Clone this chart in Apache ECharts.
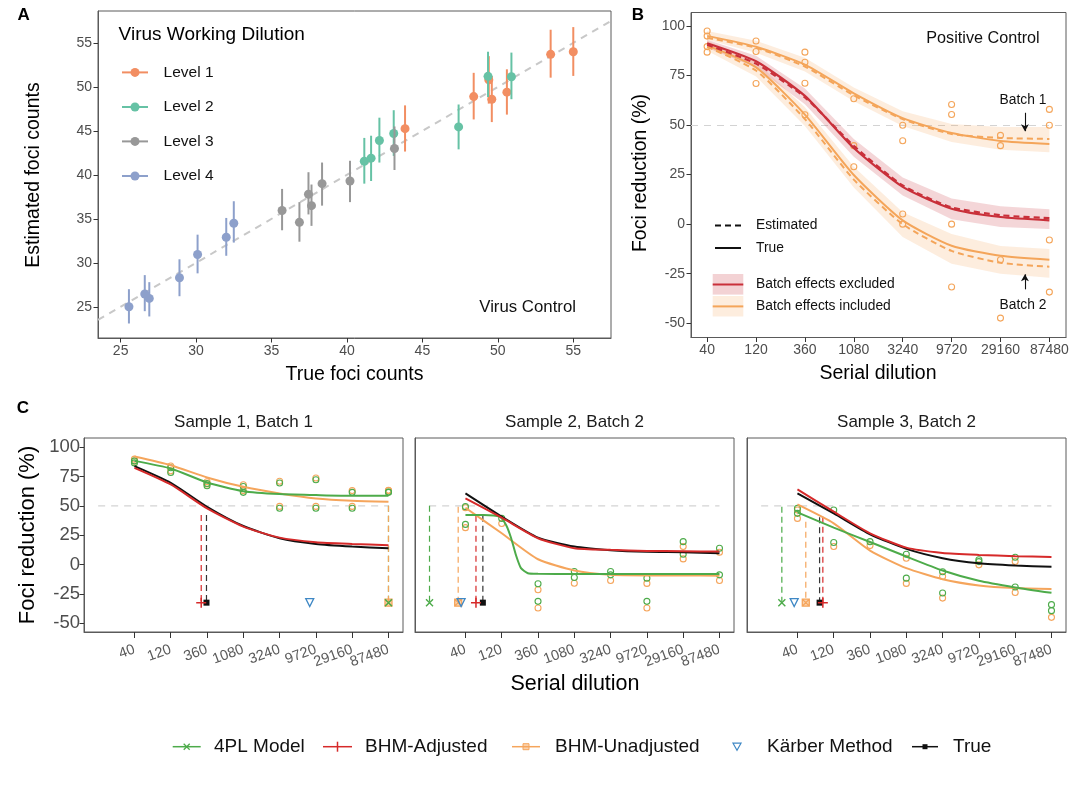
<!DOCTYPE html>
<html>
<head>
<meta charset="utf-8">
<script src="https://cdn.jsdelivr.net/npm/echarts@6/dist/echarts.min.js"></script>
<style>
  html, body { margin: 0; background: #fff; }
  #main { width: 1080px; height: 785px; }
</style>
</head>
<body>
<div id="main"></div>
<script>
// ---------- panel A: virus control ----------
const lvlNames = ['Level 1', 'Level 2', 'Level 3', 'Level 4'];
const lvl1X = [43.85, 48.4, 49.4, 49.6, 50.6, 53.5, 55.0];
const lvl1Y = [45.25, 48.9, 50.8, 48.6, 49.4, 53.7, 54.0];
const lvl1Lo = [42.65, 46.3, 48.1, 46.0, 46.85, 51.05, 51.25];
const lvl1Hi = [47.9, 51.6, 53.5, 51.25, 52.0, 56.5, 56.8];
const lvl2X = [41.15, 41.6, 42.15, 43.1, 47.4, 49.35, 50.9];
const lvl2Y = [41.55, 41.9, 43.9, 44.7, 45.45, 51.2, 51.15];
const lvl2Lo = [39.0, 39.3, 41.4, 42.15, 42.9, 48.85, 48.6];
const lvl2Hi = [44.2, 44.45, 46.5, 47.35, 48.0, 54.0, 53.9];
const lvl3X = [35.7, 36.85, 37.45, 37.65, 38.35, 40.2, 43.15];
const lvl3Y = [35.95, 34.6, 37.8, 36.5, 39.0, 39.3, 43.0];
const lvl3Lo = [33.7, 32.4, 35.5, 34.2, 36.5, 36.9, 40.55];
const lvl3Hi = [38.4, 36.9, 40.3, 38.9, 41.4, 41.6, 45.5];
const lvl4X = [25.55, 26.6, 26.9, 28.9, 30.1, 32.0, 32.5];
const lvl4Y = [25.0, 26.45, 25.95, 28.3, 30.95, 32.9, 34.5];
const lvl4Lo = [23.1, 24.5, 23.9, 26.2, 28.8, 30.8, 32.3];
const lvl4Hi = [27.0, 28.6, 27.8, 30.4, 33.2, 35.1, 37.0];
const countTicks = [25, 30, 35, 40, 45, 50, 55];

// ---------- panel B: positive control ----------
const dilutions = ['40', '120', '360', '1080', '3240', '9720', '29160', '87480'];
const dilIdx = [0, 1, 2, 3, 4, 5, 6, 7];
const pctTicks = [-50, -25, 0, 25, 50, 75, 100];
const b1True = [95, 89.5, 80.5, 66, 53.5, 46, 42, 40.5];
const b1Est = [94, 89, 79.5, 65, 53, 45.5, 43.5, 43];
const b1Lo = [93, 86.5, 77, 62, 49.5, 41.5, 37.5, 36.3];
const b1Hi = [97.5, 92.5, 84, 69, 57, 50.5, 49, 49];
const exTrue = [91.3, 82.2, 64.7, 38.4, 18.8, 7.8, 3.6, 1.9];
const exEst = [90.5, 81, 64, 39.5, 19.5, 8.5, 4.5, 3];
const exLo = [89, 79, 60.5, 34, 14.5, 2.5, -1.5, -2.5];
const exHi = [93, 85, 68.5, 43, 23.5, 13, 9, 7.5];
const b2True = [90.2, 79.1, 55.3, 24.8, 1.9, -10.9, -16, -18];
const b2Est = [89.5, 77.5, 53, 22.5, 0, -13.5, -19.5, -21.5];
const b2Lo = [87.5, 74.5, 49.5, 18.5, -6.5, -20, -25, -27];
const b2Hi = [92.5, 82, 59, 29, 6, -5, -11, -12.5];
const bObs = [
  [0, 97.5], [0, 94.9], [0, 89.6], [0, 86.8],
  [1, 92.4], [1, 87.1], [1, 71.0],
  [2, 86.8], [2, 81.7], [2, 71.1], [2, 55.2],
  [3, 63.3], [3, 39.6], [3, 29.0],
  [4, 49.9], [4, 42.1], [4, 5.1], [4, 0],
  [5, 60.4], [5, 55.3], [5, 0], [5, -31.7],
  [6, 44.8], [6, 39.6], [6, -18], [6, -47.4],
  [7, 57.9], [7, 49.9], [7, -8], [7, -34.3]
];
const batchArrowX = 6.5;
const batch1Arrow = [56.2, 46.9];
const batch2Arrow = [-32.9, -25.3];

// ---------- panel C: samples ----------
const sampleTitles = ['Sample 1, Batch 1', 'Sample 2, Batch 2', 'Sample 3, Batch 2'];
const c1True = [83.8, 69.6, 49.2, 32.8, 22.4, 17.5, 15.3, 13.9];
const c1Adj = [82.4, 68.2, 47.8, 32.3, 22.9, 19, 17.5, 16.4];
const c1Unadj = [92.0, 84.6, 74.2, 66.2, 60.6, 56.3, 54.3, 53.5];
const c1FplX = [0, 1, 2, 3, 4, 5, 6, 7];
const c1Fpl = [88.3, 81.8, 69.9, 62.5, 60, 59.2, 58.6, 58.6];
const c2True = [60.6, 40.8, 22.9, 15.3, 12.2, 10.8, 10.5, 9.6];
const c2Adj = [56.3, 39.9, 22.4, 13.9, 12.5, 11.6, 11.3, 11.0];
const c2Unadj = [48.4, 26.6, 4.5, -5.1, -8.8, -9.3, -9.3, -9.6];
const c2FplX = [0, 0.5, 0.94, 1.12, 1.26, 1.39, 1.53, 1.72, 2, 3, 4, 5, 6, 7];
const c2Fpl = [42.2, 42.2, 40.8, 33.7, 22.4, 8.2, -3.1, -7.4, -7.9, -8, -8, -8, -8, -8];
const c3True = [60.6, 43.6, 25.8, 13.3, 5.4, 1.1, -0.8, -2];
const c3Adj = [64, 45, 26.6, 14.4, 9.9, 8.2, 7.1, 6.5];
const c3Unadj = [51.2, 35.1, 11.9, -3.1, -12.5, -17.8, -20.1, -20.9];
const c3FplX = [0, 1, 2, 3, 4, 5, 6, 7];
const c3Fpl = [44.4, 31.4, 19.2, 6.8, -5.1, -13.9, -19.5, -24.1];

const c1ObsFpl = [[0, 88.3], [0, 86.6], [1, 82.5], [1, 78.4], [2, 69], [2, 67.1], [3, 66.5], [3, 61.5], [4, 69.5], [4, 48], [5, 72.2], [5, 48], [6, 61.5], [6, 48], [7, 61.8], [7, 61.5]];
const c1ObsUnadj = [[0, 89.8], [0, 88], [1, 84], [1, 79.8], [2, 70.5], [2, 68.6], [3, 68], [3, 63], [4, 71], [4, 49.5], [5, 73.7], [5, 49.5], [6, 63], [6, 49.5], [7, 63.3], [7, 63]];
const c2ObsFpl = [[0, 49.3], [0, 34.2], [1, 39.3], [2, -16.4], [2, -31.4], [3, -5.9], [3, -11], [4, -5.9], [4, -8.8], [5, -11.6], [5, -31.4], [6, 19.5], [6, 8.8], [7, 13.9], [7, -8.8]];
const c2ObsUnadj = [[0, 48.4], [0, 31.4], [1, 35], [2, -21.5], [2, -37], [3, -15.9], [4, -13.6], [5, -16.1], [5, -37], [6, 15.3], [6, 4.8], [7, 10.5], [7, -13.6]];
const c3ObsFpl = [[0, 47.8], [0, 43.6], [1, 46.4], [1, 18.7], [2, 19.5], [3, 8.8], [3, -11.6], [4, -6.2], [4, -24.3], [5, 4], [5, 2.5], [6, 6.2], [6, -19.2], [7, -34.2], [7, -39.3]];
const c3ObsUnadj = [[0, 46.4], [0, 39.3], [1, 15.3], [2, 16.1], [3, 5.4], [3, -16.1], [4, -10.2], [4, -28.6], [5, -0.3], [6, 2.5], [6, -23.8], [7, -45]];

// ID50 estimates (x on dilution index scale) and the top of each dashed drop line
const id50Fpl = [7.0, -0.99, -0.43];
const id50Adj = [1.84, 0.29, 0.70];
const id50Unadj = [7.0, -0.2, 0.23];
const id50Karber = [4.83, -0.12, -0.09];
const id50True = [1.985, 0.48, 0.61];
const dropTopFpl = [50, 50, 49.2];
const dropTopAdj = [42.2, 41.6, 40.8];
const dropTopUnadj = [50, 49.2, 36.5];
const dropTopTrue = [42.2, 41.6, 40.2];
const id50Y = -32.5;
const refLine = [-1, 50, 7, 50];

const FONT = "'Liberation Sans', Arial, Helvetica, sans-serif";
const lvlColors = ['#f28e62', '#66c2a5', '#989898', '#8da0cb'];
const GREEN = '#4dab4a', RED = '#d62a2a', ORANGE = '#f5a55c', BLUE = '#3f88c5';
const B_RED = '#c9303a', B_ORANGE = '#f4a55a';

const chart = echarts.init(document.getElementById('main'), null, { renderer: 'canvas' });

const grids = [
  { left: 98, top: 11, width: 513, height: 327 },
  { left: 691, top: 12.5, width: 375, height: 325 },
  { left: 84, top: 438, width: 319, height: 194 },
  { left: 415, top: 438, width: 319, height: 194 },
  { left: 747, top: 438, width: 319, height: 194 }
].map(g => Object.assign({ show: true, borderColor: '#5a5a5a', borderWidth: 1, backgroundColor: '#fff', outerBoundsMode: 'none', containLabel: false }, g));

function axis(gi, min, max, ticks, o = {}) {
  return {
    type: 'value', gridIndex: gi, min, max,
    axisLine: { show: true, onZero: false, lineStyle: { color: '#5a5a5a', width: 1 } },
    axisTick: { show: o.ticks !== false, length: o.tickLen || 4.5, customValues: ticks, lineStyle: { color: '#333' } },
    axisLabel: {
      show: o.labels !== false, customValues: o.labelValues || ticks, color: o.color || '#4d4d4d', fontFamily: FONT,
      fontSize: o.fs || 14, margin: o.margin || 5, rotate: o.rotate || 0, formatter: o.fmt,
      hideOverlap: false, showMinLabel: true, showMaxLabel: true
    },
    splitLine: { show: false }
  };
}
const dilFmt = v => (Number.isInteger(v) ? dilutions[v] || '' : '');
// blank guard labels at both ends keep the rotated end labels from being dropped
const cLabelValues = [-1.38].concat(dilIdx, [7.39]);
const cX = gi => axis(gi, -1.39, 7.4, dilIdx, { fmt: dilFmt, rotate: 20, fs: 14.5, margin: 17, tickLen: 6, labelValues: cLabelValues, color: '#5a5a5a' });

const xAxes = [
  axis(0, 23.5, 57.5, countTicks, { margin: 6 }),
  axis(1, -0.33, 7.34, dilIdx, { fmt: dilFmt, margin: 6 }),
  cX(2), cX(3), cX(4)
];
const yAxes = [
  axis(0, 21.45, 58.63, countTicks, { margin: 6 }),
  axis(1, -57.2, 106.8, pctTicks, { margin: 6 }),
  axis(2, -57.5, 107.8, pctTicks, { fs: 18.5, margin: 4 }),
  axis(3, -57.5, 107.8, pctTicks, { labels: false, ticks: false }),
  axis(4, -57.5, 107.8, pctTicks, { labels: false, ticks: false })
];

// line segments [x1, y1, x2, y2] in data space
function segs(gi, data, color, width, dash, z) {
  return {
    type: 'custom', xAxisIndex: gi, yAxisIndex: gi, data, silent: true, z: z || 2,
    encode: { x: [0, 2], y: [1, 3] },
    renderItem: (params, api) => {
      const a = api.coord([api.value(0), api.value(1)]);
      const b = api.coord([api.value(2), api.value(3)]);
      return { type: 'line', shape: { x1: a[0], y1: a[1], x2: b[0], y2: b[1] },
        style: { stroke: color, lineWidth: width, lineDash: dash || null } };
    }
  };
}
function line(gi, xs, ys, color, width, dash, z) {
  return {
    type: 'line', xAxisIndex: gi, yAxisIndex: gi, data: ys.map((v, i) => [xs[i], v]),
    symbol: 'none', smooth: 0.2, silent: true, z: z || 3,
    lineStyle: { color, width, type: dash || 'solid' }
  };
}
// ribbon between lo and hi, one polygon through the axis scales
function band(gi, lo, hi, color) {
  return {
    type: 'custom', xAxisIndex: gi, yAxisIndex: gi, data: [[0, lo[0]]], silent: true, z: 1,
    renderItem: (params, api) => {
      const up = hi.map((v, i) => api.coord([i, v]));
      const dn = lo.map((v, i) => api.coord([i, v])).reverse();
      return { type: 'polygon', shape: { points: up.concat(dn) }, style: { fill: color } };
    }
  };
}
function pts(gi, data, symbol, size, fill, stroke, bw, z) {
  return {
    type: 'scatter', xAxisIndex: gi, yAxisIndex: gi, data, symbol, symbolSize: size, silent: true, z: z || 4,
    itemStyle: { color: fill, borderColor: stroke, borderWidth: bw, opacity: 1 }
  };
}
const SYM_X = 'path://M0,0L10,10M10,0L0,10';
const SYM_PLUS = 'path://M5,0L5,10M0,5L10,5';
const SYM_SQX = 'path://M0,0H10V10H0ZM0,0L10,10M10,0L0,10';
const SYM_TRI = 'path://M0,0H10L5,9Z';

const series = [];

// panel A
series.push(segs(0, [[23.5, 23.5, 57.5, 57.5]], '#c8c8c8', 2, [7, 6], 1));
const levels = [[lvl1X, lvl1Y, lvl1Lo, lvl1Hi], [lvl2X, lvl2Y, lvl2Lo, lvl2Hi], [lvl3X, lvl3Y, lvl3Lo, lvl3Hi], [lvl4X, lvl4Y, lvl4Lo, lvl4Hi]];
levels.forEach(([xs, ys, lo, hi], k) => {
  series.push(segs(0, xs.map((x, i) => [x, lo[i], x, hi[i]]), lvlColors[k], 2, null, 3 + k * 0.1));
  const s = pts(0, xs.map((x, i) => [x, ys[i]]), 'circle', 9, lvlColors[k], lvlColors[k], 0, 3 + k * 0.1);
  s.name = lvlNames[k];
  series.push(s);
});

// panel B
series.push(band(1, b1Lo, b1Hi, 'rgba(244,165,90,0.2)'));
series.push(band(1, b2Lo, b2Hi, 'rgba(244,165,90,0.2)'));
series.push(band(1, exLo, exHi, 'rgba(201,48,58,0.2)'));
series.push({
  type: 'line', xAxisIndex: 1, yAxisIndex: 1, data: [], silent: true,
  markLine: { silent: true, symbol: 'none', label: { show: false }, z: 1,
    lineStyle: { color: '#d3d3d3', type: [7, 6], width: 1.2 }, data: [{ yAxis: 50 }] }
});
series.push(line(1, dilIdx, b1True, B_ORANGE, 2));
series.push(line(1, dilIdx, b1Est, B_ORANGE, 2, [6, 4]));
series.push(line(1, dilIdx, b2True, B_ORANGE, 2));
series.push(line(1, dilIdx, b2Est, B_ORANGE, 2, [6, 4]));
series.push(line(1, dilIdx, exTrue, B_RED, 2.2));
series.push(line(1, dilIdx, exEst, B_RED, 2.2, [6, 4]));
series.push(pts(1, bObs, 'circle', 6, 'rgba(0,0,0,0)', B_ORANGE, 1.1, 2));
series.push({
  type: 'line', xAxisIndex: 1, yAxisIndex: 1, data: [], silent: true,
  markLine: { silent: true, symbol: ['none', 'arrow'], symbolSize: [6, 7], label: { show: false },
    lineStyle: { color: '#111', type: 'solid', width: 1.1 },
    data: [
      [{ coord: [batchArrowX, batch1Arrow[0]] }, { coord: [batchArrowX, batch1Arrow[1]] }],
      [{ coord: [batchArrowX, batch2Arrow[0]] }, { coord: [batchArrowX, batch2Arrow[1]] }]
    ] }
});

// panel C
const cCurves = [
  [c1True, c1Adj, c1Unadj, c1FplX, c1Fpl, c1ObsFpl, c1ObsUnadj],
  [c2True, c2Adj, c2Unadj, c2FplX, c2Fpl, c2ObsFpl, c2ObsUnadj],
  [c3True, c3Adj, c3Unadj, c3FplX, c3Fpl, c3ObsFpl, c3ObsUnadj]
];
cCurves.forEach(([tru, adj, unadj, fplX, fpl, obsF, obsU], p) => {
  const gi = 2 + p;
  series.push(segs(gi, [refLine], '#d3d3d3', 1.2, [7, 6], 1));
  series.push(pts(gi, obsU, 'circle', 6, 'rgba(0,0,0,0)', ORANGE, 1.1, 2));
  series.push(pts(gi, obsF, 'circle', 6, 'rgba(0,0,0,0)', GREEN, 1.1, 2));
  series.push(line(gi, dilIdx, unadj, ORANGE, 2));
  series.push(line(gi, fplX, fpl, GREEN, 2));
  series.push(line(gi, dilIdx, tru, '#111', 2));
  series.push(line(gi, dilIdx, adj, RED, 2));
  series.push(segs(gi, [[id50Fpl[p], dropTopFpl[p], id50Fpl[p], id50Y]], GREEN, 1.2, [6, 4], 2));
  series.push(segs(gi, [[id50Unadj[p], dropTopUnadj[p], id50Unadj[p], id50Y]], ORANGE, 1.2, [6, 4], 2));
  series.push(segs(gi, [[id50True[p], dropTopTrue[p], id50True[p], id50Y]], '#333', 1.2, [6, 4], 2));
  series.push(segs(gi, [[id50Adj[p], dropTopAdj[p], id50Adj[p], id50Y]], RED, 1.2, [6, 4], 2));
  series.push(pts(gi, [[id50Unadj[p], id50Y]], SYM_SQX, 7, 'rgba(245,165,92,0.5)', ORANGE, 1.3, 5));
  series.push(pts(gi, [[id50Fpl[p], id50Y]], SYM_X, 7, 'rgba(0,0,0,0)', GREEN, 1.4, 5));
  series.push(pts(gi, [[id50Karber[p], id50Y]], SYM_TRI, 8, 'rgba(0,0,0,0)', BLUE, 1.3, 5));
  series.push(pts(gi, [[id50True[p], id50Y]], 'rect', 6, '#111', '#111', 0, 5));
  series.push(pts(gi, [[id50Adj[p], id50Y]], SYM_PLUS, 10, 'rgba(0,0,0,0)', RED, 1.5, 5));
});

// ---------- text, legends ----------
const g = [];
function txt(x, y, s, size, o = {}) {
  g.push({ type: 'text', x, y, rotation: o.rot || 0, z: 100, silent: true,
    style: { text: s, fontSize: size, fontFamily: FONT, fill: o.color || '#1a1a1a',
      fontWeight: o.weight || 'normal', align: o.align || 'center', verticalAlign: 'middle',
      textAlign: o.align || 'center', textVerticalAlign: 'middle' } });
}
function ln(x1, y1, x2, y2, color, w, dash) {
  g.push({ type: 'line', z: 100, silent: true, shape: { x1, y1, x2, y2 }, style: { stroke: color, lineWidth: w, lineDash: dash || null } });
}
function box(x, y, w, h, fill, stroke) {
  g.push({ type: 'rect', z: 100, silent: true, shape: { x, y, width: w, height: h }, style: { fill, stroke: stroke || null, lineWidth: 1 } });
}

txt(23.7, 15, 'A', 17, { weight: 'bold', color: '#000' });
txt(638, 15, 'B', 17, { weight: 'bold', color: '#000' });
txt(23, 408, 'C', 17, { weight: 'bold', color: '#000' });

// A titles and legend
txt(34, 175, 'Estimated foci counts', 19.5, { rot: Math.PI / 2, color: '#000' });
txt(354.5, 375, 'True foci counts', 19.5, { color: '#000' });
txt(118.6, 35, 'Virus Working Dilution', 19, { align: 'left', color: '#000' });
const lvlLegY = [72.4, 107, 141.4, 176];
lvlNames.forEach((n, k) => {
  ln(122, lvlLegY[k], 148, lvlLegY[k], lvlColors[k], 2);
  g.push({ type: 'circle', z: 101, silent: true, shape: { cx: 135, cy: lvlLegY[k], r: 4.5 }, style: { fill: lvlColors[k] } });
  txt(163.6, lvlLegY[k], n, 15.5, { align: 'left', color: '#111' });
});
txt(527.6, 307, 'Virus Control', 16.8, { color: '#111' });

// B titles and legend
txt(641, 173, 'Foci reduction (%)', 19.5, { rot: Math.PI / 2, color: '#000' });
txt(878, 374, 'Serial dilution', 19.5, { color: '#000' });
txt(983, 38.7, 'Positive Control', 16.2, { color: '#111' });
txt(1023, 100.3, 'Batch 1', 13.8, { color: '#111' });
txt(1023, 304.7, 'Batch 2', 13.8, { color: '#111' });
ln(715, 225.6, 741, 225.6, '#111', 2, [6, 4]);
txt(756, 225.6, 'Estimated', 13.8, { align: 'left', color: '#111' });
ln(715, 248, 741, 248, '#111', 2);
txt(756, 248, 'True', 13.8, { align: 'left', color: '#111' });
box(712.7, 274, 30.6, 20.6, 'rgba(201,48,58,0.22)');
ln(712.7, 284.5, 743.3, 284.5, B_RED, 2);
txt(756, 284.5, 'Batch effects excluded', 13.8, { align: 'left', color: '#111' });
box(712.7, 296, 30.6, 20.5, 'rgba(244,165,90,0.2)');
ln(712.7, 306.4, 743.3, 306.4, B_ORANGE, 2);
txt(756, 306.4, 'Batch effects included', 13.8, { align: 'left', color: '#111' });

// C titles
txt(28, 535, 'Foci reduction (%)', 22, { rot: Math.PI / 2, color: '#000' });
txt(575, 684, 'Serial dilution', 21.5, { color: '#000' });
[243.5, 574.5, 906.5].forEach((cx, k) => txt(cx, 422, sampleTitles[k], 17, { color: '#1a1a1a' }));

// C legend
const legY = 746.7;
ln(172.7, legY, 200.7, legY, GREEN, 1.5);
ln(183.7, legY - 3, 189.7, legY + 3, GREEN, 1.3); ln(189.7, legY - 3, 183.7, legY + 3, GREEN, 1.3);
txt(214, legY, '4PL Model', 19, { align: 'left', color: '#111' });
ln(323, legY, 352, legY, RED, 1.5);
ln(337.5, legY - 5, 337.5, legY + 5, RED, 1.5);
txt(365, legY, 'BHM-Adjusted', 19, { align: 'left', color: '#111' });
ln(512, legY, 540, legY, ORANGE, 1.5);
box(523, legY - 3, 6, 6, 'rgba(245,165,92,0.5)', ORANGE);
txt(555, legY, 'BHM-Unadjusted', 19, { align: 'left', color: '#111' });
g.push({ type: 'polygon', z: 100, silent: true, shape: { points: [[733, legY - 3.5], [741, legY - 3.5], [737, legY + 3.5]] }, style: { fill: 'none', stroke: BLUE, lineWidth: 1.2 } });
txt(767, legY, 'Kärber Method', 19, { align: 'left', color: '#111' });
ln(912, legY, 938, legY, '#111', 1.5);
box(922.5, legY - 2.5, 5, 5, '#111');
txt(953, legY, 'True', 19, { align: 'left', color: '#111' });

chart.setOption({
  animation: false,
  backgroundColor: '#fff',
  textStyle: { fontFamily: FONT },
  grid: grids,
  xAxis: xAxes,
  yAxis: yAxes,
  series,
  graphic: { elements: g }
});
</script>
</body>
</html>
